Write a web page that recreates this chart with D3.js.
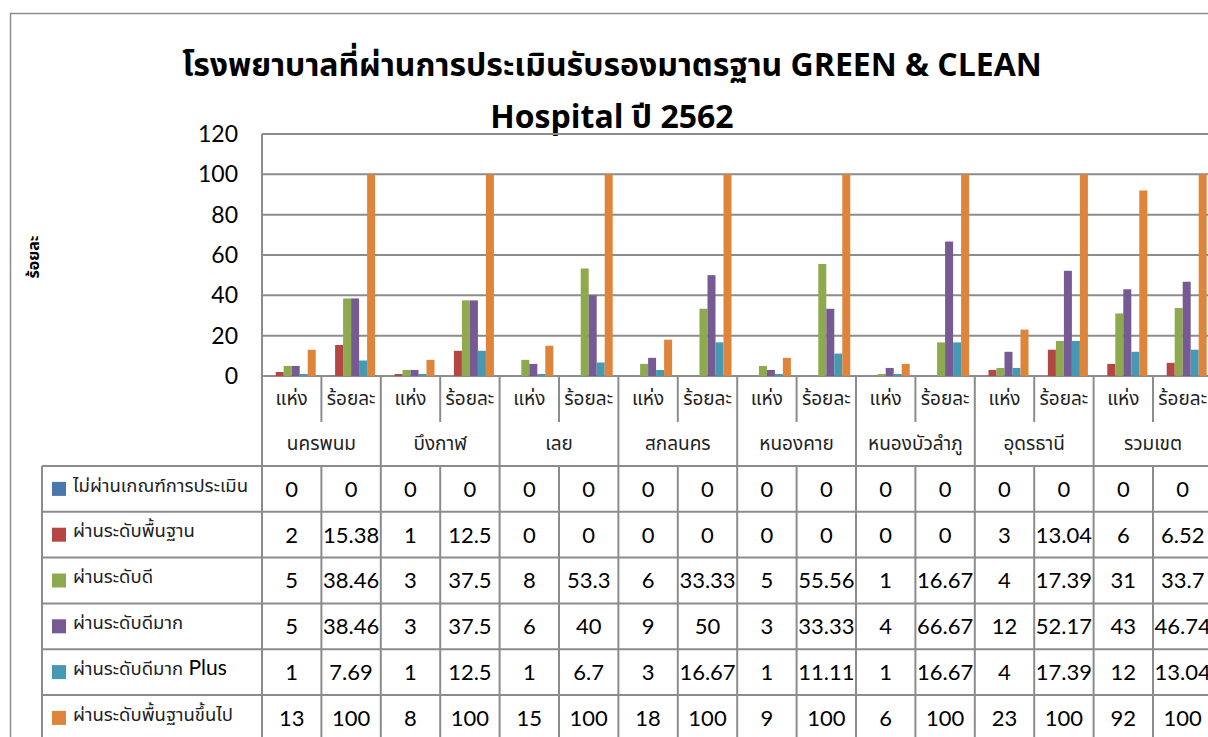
<!DOCTYPE html>
<html>
<head>
<meta charset="utf-8">
<script src="https://cdn.jsdelivr.net/npm/d3@7"></script>
<style>
  body { margin: 0; background: #fff; }
  svg { display: block; }
  .thai { font-family: "Noto Sans Thai", "Noto Sans", "DejaVu Sans", sans-serif; }
  .num { font-family: Lato, "Open Sans", sans-serif; }
</style>
</head>
<body>
<svg id="chart" width="1208" height="737"></svg>
<script>
const provinces = ["นครพนม", "บึงกาฬ", "เลย", "สกลนคร", "หนองคาย", "หนองบัวลำภู", "อุดรธานี", "รวมเขต"];
const subCats = ["แห่ง", "ร้อยละ"];
const seriesNames = [
  "ไม่ผ่านเกณฑ์การประเมิน",
  "ผ่านระดับพื้นฐาน",
  "ผ่านระดับดี",
  "ผ่านระดับดีมาก",
  "ผ่านระดับดีมาก Plus",
  "ผ่านระดับพื้นฐานขึ้นไป"
];
const colors = ["#4a77ad", "#b44643", "#8ea94e", "#765a93", "#4599b2", "#df843b"];

// each series: [แห่ง, ร้อยละ] per province
const notPassed   = [0, 0, 0, 0, 0, 0, 0, 0, 0, 0, 0, 0, 0, 0, 0, 0];
const basic       = [2, 15.38, 1, 12.5, 0, 0, 0, 0, 0, 0, 0, 0, 3, 13.04, 6, 6.52];
const good        = [5, 38.46, 3, 37.5, 8, 53.3, 6, 33.33, 5, 55.56, 1, 16.67, 4, 17.39, 31, 33.7];
const veryGood    = [5, 38.46, 3, 37.5, 6, 40, 9, 50, 3, 33.33, 4, 66.67, 12, 52.17, 43, 46.74];
const veryGoodPlus = [1, 7.69, 1, 12.5, 1, 6.7, 3, 16.67, 1, 11.11, 1, 16.67, 4, 17.39, 12, 13.04];
const basicUp     = [13, 100, 8, 100, 15, 100, 18, 100, 9, 100, 6, 100, 23, 100, 92, 100];
const seriesValues = [notPassed, basic, good, veryGood, veryGoodPlus, basicUp];

const yTicks = [0, 20, 40, 60, 80, 100, 120];
const titleLines = ["โรงพยาบาลที่ผ่านการประเมินรับรองมาตรฐาน GREEN & CLEAN", "Hospital ปี 2562"];

const svg = d3.select("#chart");
const gridColor = "#8c8c8c";

const cats = provinces.flatMap((p, i) => subCats.map((s, j) => i * 2 + j));
const catW = 59.4;
const x = d3.scaleBand().domain(cats).range([262, 262 + catW * cats.length]);
const xs = d3.scaleBand().domain(d3.range(seriesNames.length)).range([5.7, catW - 5.7]);
const y = d3.scaleLinear().domain([0, 120]).range([376, 134]);
const rows = d3.scaleBand().domain(d3.range(seriesNames.length)).range([466, 466 + 45.8 * 6]);

// outer chart border
svg.append("rect")
  .attr("x", 10.5).attr("y", 13.5).attr("width", 1300).attr("height", 800)
  .attr("fill", "none").attr("stroke", gridColor).attr("stroke-width", 1.5);

// title
svg.append("g").selectAll("text")
  .data(titleLines)
  .join("text")
  .attr("class", "thai")
  .attr("x", 612)
  .attr("y", (d, i) => 76 + i * 52)
  .attr("text-anchor", "middle")
  .attr("font-size", 32)
  .attr("font-weight", "bold")
  .attr("fill", "#000")
  .text(d => d);

// gridlines
svg.append("g").selectAll("line")
  .data(yTicks)
  .join("line")
  .attr("x1", 262).attr("x2", 1215)
  .attr("y1", d => y(d)).attr("y2", d => y(d))
  .attr("stroke", gridColor).attr("stroke-width", 2);

// y axis
const yAxis = svg.append("g")
  .attr("transform", "translate(240,0)")
  .call(d3.axisLeft(y).tickValues(yTicks).tickSize(0).tickPadding(2));
yAxis.select(".domain").remove();
yAxis.selectAll("text")
  .attr("class", "num")
  .attr("font-size", 23)
  .attr("fill", "#000");

svg.append("text")
  .attr("class", "thai")
  .attr("transform", "translate(39,257) rotate(-90)")
  .attr("text-anchor", "middle")
  .attr("font-size", 16)
  .attr("font-weight", "bold")
  .text("ร้อยละ");

// bars
const barData = seriesValues.flatMap((vals, s) => vals.map((v, c) => ({ s, c, v })));
svg.append("g").selectAll("rect")
  .data(barData.filter(d => d.v > 0))
  .join("rect")
  .attr("x", d => x(d.c) + xs(d.s))
  .attr("width", xs.bandwidth())
  .attr("y", d => y(d.v))
  .attr("height", d => y(0) - y(d.v))
  .attr("fill", d => colors[d.s]);

// table lines
const tbl = svg.append("g").attr("stroke", gridColor).attr("stroke-width", 2);
tbl.append("line").attr("x1", 262).attr("x2", 262).attr("y1", 134).attr("y2", 737);
// province separators
tbl.selectAll(".pv").data(provinces)
  .join("line")
  .attr("x1", (d, i) => x(i * 2 + 1) + catW).attr("x2", (d, i) => x(i * 2 + 1) + catW)
  .attr("y1", 376).attr("y2", 737);
// sub-category separators (short in header, full in body)
tbl.selectAll(".sh").data(provinces)
  .join("line")
  .attr("x1", (d, i) => x(i * 2 + 1)).attr("x2", (d, i) => x(i * 2 + 1))
  .attr("y1", 376).attr("y2", 422);
tbl.selectAll(".sb").data(provinces)
  .join("line")
  .attr("x1", (d, i) => x(i * 2 + 1)).attr("x2", (d, i) => x(i * 2 + 1))
  .attr("y1", 466).attr("y2", 737);
// horizontal row lines
tbl.selectAll(".rw").data(d3.range(seriesNames.length))
  .join("line")
  .attr("x1", 42).attr("x2", 1215)
  .attr("y1", d => rows(d)).attr("y2", d => rows(d));
tbl.append("line").attr("x1", 42).attr("x2", 42).attr("y1", 466).attr("y2", 737);

// header labels
svg.append("g").selectAll("text")
  .data(cats)
  .join("text")
  .attr("class", "thai")
  .attr("x", d => x(d) + catW / 2)
  .attr("y", 405)
  .attr("text-anchor", "middle")
  .attr("font-size", 19)
  .attr("fill", "#222")
  .text(d => subCats[d % 2]);

svg.append("g").selectAll("text")
  .data(provinces)
  .join("text")
  .attr("class", "thai")
  .attr("x", (d, i) => x(i * 2) + catW)
  .attr("y", 450)
  .attr("text-anchor", "middle")
  .attr("font-size", 19)
  .attr("fill", "#222")
  .text(d => d);

// legend column
const leg = svg.append("g").selectAll("g")
  .data(seriesNames)
  .join("g")
  .attr("transform", (d, i) => `translate(0,${rows(i) + rows.bandwidth() / 2})`);
leg.append("rect")
  .attr("x", 52).attr("y", -7).attr("width", 14).attr("height", 14)
  .attr("fill", (d, i) => colors[i]);
const legText = leg.append("text")
  .attr("class", "thai")
  .attr("x", 73).attr("y", 0).attr("dy", "0.15em")
  .attr("font-size", 18.5)
  .attr("fill", "#222");
legText.append("tspan").text(d => d.replace(" Plus", ""));
legText.filter(d => d.endsWith(" Plus"))
  .append("tspan")
  .attr("class", "num")
  .attr("font-size", 21)
  .attr("fill", "#000")
  .text(" Plus");

// table values
svg.append("g").selectAll("text")
  .data(barData)
  .join("text")
  .attr("class", "num")
  .attr("x", d => x(d.c) + catW / 2)
  .attr("y", d => rows(d.s) + rows.bandwidth() / 2)
  .attr("dy", "0.36em")
  .attr("text-anchor", "middle")
  .attr("font-size", 22)
  .attr("fill", "#000")
  .text(d => d.v);
</script>
</body>
</html>
